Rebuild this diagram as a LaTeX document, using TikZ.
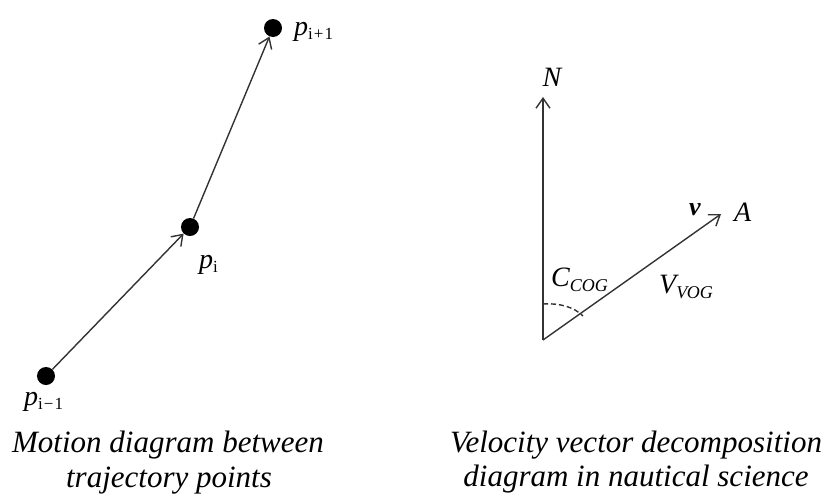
\documentclass[tikz,border=0pt]{standalone}
\usepackage{fontspec}
\setmainfont{Liberation Serif}
\usetikzlibrary{arrows.meta}
\newcommand\lsub[1]{\raisebox{-4pt}{\fontsize{17}{17}\selectfont\upshape #1}}
\newcommand\csub[1]{\raisebox{-5pt}{\fontsize{18}{18}\selectfont\itshape #1}}
\begin{document}
\begin{tikzpicture}[x=1pt,y=-1pt,
  vec/.style={draw=black!80,line width=1.4pt,-{Straight Barb[length=10pt,width=14pt,line width=1.4pt]}},
  ptdot/.style={circle,fill=black,inner sep=0pt,minimum size=18pt},
  lbl/.style={inner sep=0pt,font=\fontsize{28}{28}\selectfont\itshape},
  captxt/.style={inner sep=0pt,anchor=base,font=\fontsize{31}{31}\selectfont\itshape}]
\useasboundingbox (0,0) rectangle (834,501);
% left diagram
\node[ptdot] (p0) at (46,376) {};
\node[ptdot] (p1) at (190,227) {};
\node[ptdot] (p2) at (273,28) {};
\draw[vec] (p0) -- (p1);
\draw[vec] (p1) -- (p2);
\node[lbl,anchor=base west] (l2) at (294,35) {p\lsub{i\kern1pt+\kern1pt1}};
\node[lbl,anchor=base west] (l1) at (199,268) {p\lsub{i}};
\node[lbl,anchor=base west] (l0) at (24,405) {p\lsub{i\kern1pt−\kern1pt1}};
% right diagram
\coordinate (O) at (543,340);
\coordinate (Ntip) at (543,97);
\coordinate (Atip) at (721,214);
\draw[vec] (O) -- (Ntip);
\draw[vec] (O) -- (Atip);
\coordinate (arcS) at (543,304);
\coordinate (arcE) at (583,316);
\draw[black!80,line width=1.4pt,dash pattern=on 5pt off 3pt] (arcS) .. controls (560,303) and (574,307) .. (arcE);
\node[lbl,anchor=base] (N) at (552,86) {N};
\node[lbl,anchor=base west] (A) at (734,221) {A};
\node[lbl,anchor=base west,font=\fontsize{26}{26}\selectfont\bfseries\itshape] (v) at (689,215) {v};
\node[lbl,anchor=base west] (C) at (551,286) {C\csub{COG}};
\node[lbl,anchor=base west] (V) at (659,293) {V\csub{VOG}};
% captions
\node[captxt] (c1) at (168,452) {Motion diagram between};
\node[captxt] (c2) at (169,487) {trajectory points};
\node[captxt] (c3) at (636,452) {Velocity vector decomposition};
\node[captxt] (c4) at (636,486) {diagram in nautical science};
\end{tikzpicture}
\end{document}
